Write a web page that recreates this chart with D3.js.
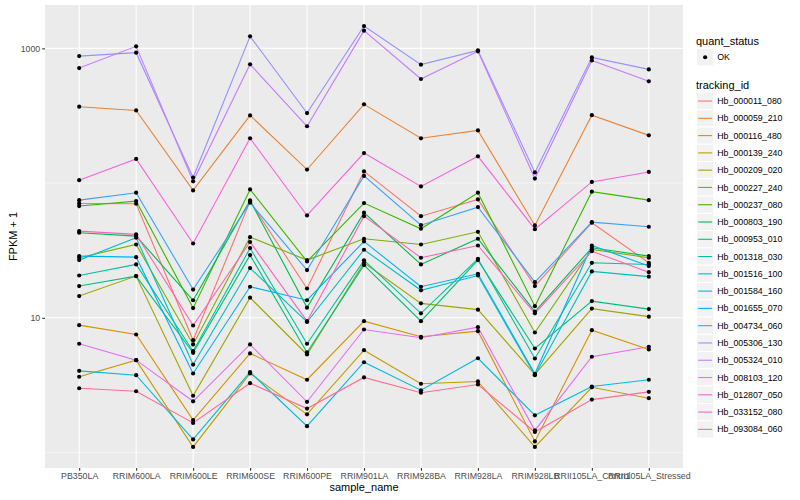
<!DOCTYPE html>
<html><head><meta charset="utf-8">
<script src="https://cdn.jsdelivr.net/npm/d3@7"></script>
<style>
body{margin:0;background:#fff}
text{font-family:"Liberation Sans",Arial,Helvetica,sans-serif}
</style>
</head><body>
<svg id="chart" width="800" height="500"></svg>
<script>
// ---------------- data ----------------
const categories = ["PB350LA","RRIM600LA","RRIM600LE","RRIM600SE","RRIM600PE","RRIM901LA",
  "RRIM928BA","RRIM928LA","RRIM928LB","RRII105LA_Control","RRII105LA_Stressed"];

const trackingIds = ["Hb_000011_080","Hb_000059_210","Hb_000116_480","Hb_000139_240","Hb_000209_020",
  "Hb_000227_240","Hb_000237_080","Hb_000803_190","Hb_000953_010","Hb_001318_030","Hb_001516_100",
  "Hb_001584_160","Hb_001655_070","Hb_004734_060","Hb_005306_130","Hb_005324_010","Hb_008103_120",
  "Hb_012807_050","Hb_033152_080","Hb_093084_060"];

const quantStatus = ["OK"];
const yMajorTicks = [10, 1000];
const yMinorTicks = [1, 100];

// FPKM + 1, one array per tracking_id (same order as trackingIds), values per sample
const fpkmPlus1 = [
  /* Hb_000011_080 */ [70.6, 70.3, 6.82, 73.1, 16.5, 122, 56.8, 75.6, 17.2, 50.8, 25.6],
  /* Hb_000059_210 */ [369, 346, 88.2, 318, 126, 384, 215, 246, 48.5, 319, 226],
  /* Hb_000116_480 */ [8.82, 7.52, 1.74, 5.44, 3.47, 9.44, 7.23, 7.96, 1.21, 8.09, 5.82],
  /* Hb_000139_240 */ [3.65, 4.85, 1.10, 3.86, 1.92, 5.75, 3.24, 3.37, 1.10, 3.05, 2.53],
  /* Hb_000209_020 */ [14.5, 20.4, 2.64, 14.1, 5.34, 25.6, 12.8, 11.5, 3.80, 11.7, 10.2],
  /* Hb_000227_240 */ [27.9, 35.0, 6.34, 39.7, 26.8, 38.6, 35.0, 43.5, 7.78, 32.2, 27.9],
  /* Hb_000237_080 */ [67.5, 73.5, 11.8, 89.7, 26.2, 71.0, 45.8, 84.8, 12.2, 86.3, 74.7],
  /* Hb_000803_190 */ [42.8, 40.4, 13.5, 74.3, 11.9, 60.3, 24.9, 38.6, 11.1, 33.1, 28.7],
  /* Hb_000953_010 */ [17.2, 20.4, 5.50, 29.2, 5.53, 24.6, 9.44, 26.8, 5.92, 13.3, 11.6],
  /* Hb_001318_030 */ [20.6, 24.9, 5.65, 32.9, 6.42, 26.7, 10.8, 27.4, 4.99, 25.6, 24.9],
  /* Hb_001516_100 */ [26.8, 39.3, 4.50, 23.4, 9.31, 32.0, 16.0, 20.6, 3.75, 22.1, 20.2],
  /* Hb_001584_160 */ [4.04, 3.75, 1.25, 3.95, 1.57, 4.68, 2.90, 5.01, 1.89, 3.09, 3.47],
  /* Hb_001655_070 */ [28.7, 28.2, 3.86, 17.0, 13.5, 36.9, 17.0, 21.2, 3.84, 34.4, 24.2],
  /* Hb_004734_060 */ [74.7, 84.8, 16.2, 71.5, 22.6, 113, 48.7, 66.3, 18.4, 51.3, 47.4],
  /* Hb_005306_130 */ [876, 929, 110, 1228, 331, 1464, 757, 966, 120, 857, 698],
  /* Hb_005324_010 */ [714, 1035, 103, 761, 264, 1353, 592, 950, 108, 814, 569],
  /* Hb_008103_120 */ [6.42, 4.85, 2.40, 6.34, 2.38, 8.19, 7.11, 8.52, 1.46, 5.14, 6.09],
  /* Hb_012807_050 */ [105, 151, 35.6, 215, 57.5, 167, 94.5, 158, 45.5, 102, 121],
  /* Hb_033152_080 */ [44.0, 41.6, 8.77, 36.5, 9.44, 56.8, 27.9, 34.4, 10.8, 31.2, 21.8],
  /* Hb_093084_060 */ [3.00, 2.85, 1.66, 3.27, 2.12, 3.61, 2.78, 3.20, 1.42, 2.47, 2.82]
];

// ggplot2 default hue palette for 20 levels
const seriesColors = ["#F8766D","#EA8331","#D89000","#C09B00","#A3A500","#7CAE00","#39B600","#00BB4E",
  "#00BF7D","#00C1A3","#00BFC4","#00BAE0","#00B0F6","#35A2FF","#9590FF","#C77CFF","#E76BF3","#FA62DB",
  "#FF62BC","#FF6C91"];

// ---------------- layout ----------------
const svg = d3.select("#chart");
const panel = {left: 45, right: 683, top: 5, bottom: 468};

const x = d3.scalePoint().domain(categories).range([panel.left, panel.right]).padding(0.6);

const allVals = fpkmPlus1.flat();
const lo = Math.log10(d3.min(allVals)), hi = Math.log10(d3.max(allVals));
const pad = (hi - lo) * 0.05;
const y = d3.scaleLog().domain([Math.pow(10, lo - pad), Math.pow(10, hi + pad)])
  .range([panel.bottom, panel.top]);

// panel background
svg.append("rect").attr("x", panel.left).attr("y", panel.top)
  .attr("width", panel.right - panel.left).attr("height", panel.bottom - panel.top)
  .attr("fill", "#EBEBEB");

const grid = svg.append("g");
grid.selectAll("line.minor").data(yMinorTicks).join("line")
  .attr("x1", panel.left).attr("x2", panel.right)
  .attr("y1", d => y(d)).attr("y2", d => y(d))
  .attr("stroke", "#fff").attr("stroke-width", 0.55);
grid.selectAll("line.majory").data(yMajorTicks).join("line")
  .attr("x1", panel.left).attr("x2", panel.right)
  .attr("y1", d => y(d)).attr("y2", d => y(d))
  .attr("stroke", "#fff").attr("stroke-width", 1.1);
grid.selectAll("line.majorx").data(categories).join("line")
  .attr("x1", d => x(d)).attr("x2", d => x(d))
  .attr("y1", panel.top).attr("y2", panel.bottom)
  .attr("stroke", "#fff").attr("stroke-width", 1.1);

// lines
const line = d3.line().x((d, i) => x(categories[i])).y(d => y(d));
svg.append("g").selectAll("path").data(fpkmPlus1).join("path")
  .attr("d", d => line(d))
  .attr("fill", "none")
  .attr("stroke", (d, i) => seriesColors[i])
  .attr("stroke-width", 1.1);

// points
const pts = [];
fpkmPlus1.forEach((arr, si) => arr.forEach((v, ci) => pts.push({c: categories[ci], v})));
svg.append("g").selectAll("circle").data(pts).join("circle")
  .attr("cx", d => x(d.c)).attr("cy", d => y(d.v)).attr("r", 2.1).attr("fill", "#000");

// axes
const yAxis = d3.axisLeft(y).tickValues(yMajorTicks).tickFormat(d3.format("d"))
  .tickSize(2.75).tickPadding(2);
const gy = svg.append("g").attr("transform", `translate(${panel.left},0)`).call(yAxis);
const xAxis = d3.axisBottom(x).tickSize(2.75).tickPadding(2);
const gx = svg.append("g").attr("transform", `translate(0,${panel.bottom})`).call(xAxis);
[gx, gy].forEach(g => {
  g.select(".domain").remove();
  g.selectAll(".tick line").attr("stroke", "#333333").attr("stroke-width", 1.1);
  g.selectAll(".tick text").attr("fill", "#4D4D4D").style("font-size", "8.8px")
    .style("font-family", "'Liberation Sans',Arial,sans-serif");
});

// axis titles
svg.append("text").attr("x", (panel.left + panel.right) / 2).attr("y", 491)
  .attr("text-anchor", "middle").style("font-size", "11px").attr("fill", "#000").text("sample_name");
svg.append("text").attr("transform", `translate(16.5,${(panel.top + panel.bottom) / 2}) rotate(-90)`)
  .attr("text-anchor", "middle").style("font-size", "11px").attr("fill", "#000").text("FPKM + 1");

// legends
const lg = svg.append("g").attr("transform", "translate(696,0)");
lg.append("text").attr("x", 0).attr("y", 45).style("font-size", "11px").text("quant_status");
const keySize = 17.28;
const qk = lg.selectAll("g.q").data(quantStatus).join("g")
  .attr("transform", (d, i) => `translate(0.5,${48.6 + i * keySize})`);
qk.append("rect").attr("width", keySize).attr("height", keySize)
  .attr("fill", "#F2F2F2").attr("stroke", "#fff").attr("stroke-width", 1);
qk.append("circle").attr("cx", keySize / 2).attr("cy", keySize / 2).attr("r", 2.1).attr("fill", "#000");
qk.append("text").attr("x", keySize + 3.5).attr("y", keySize / 2 + 3.1)
  .style("font-size", "8.8px").attr("fill", "#000").text(d => d);

lg.append("text").attr("x", 0).attr("y", 89).style("font-size", "11px").text("tracking_id");
const tk = lg.selectAll("g.t").data(trackingIds).join("g")
  .attr("transform", (d, i) => `translate(0.5,${92.4 + i * keySize})`);
tk.append("rect").attr("width", keySize).attr("height", keySize)
  .attr("fill", "#F2F2F2").attr("stroke", "#fff").attr("stroke-width", 1);
tk.append("line").attr("x1", 1.7).attr("x2", keySize - 1.7)
  .attr("y1", keySize / 2).attr("y2", keySize / 2)
  .attr("stroke", (d, i) => seriesColors[i]).attr("stroke-width", 1.1);
tk.append("text").attr("x", keySize + 3.5).attr("y", keySize / 2 + 3.1)
  .style("font-size", "8.8px").attr("fill", "#000").text(d => d);
</script>
</body></html>
